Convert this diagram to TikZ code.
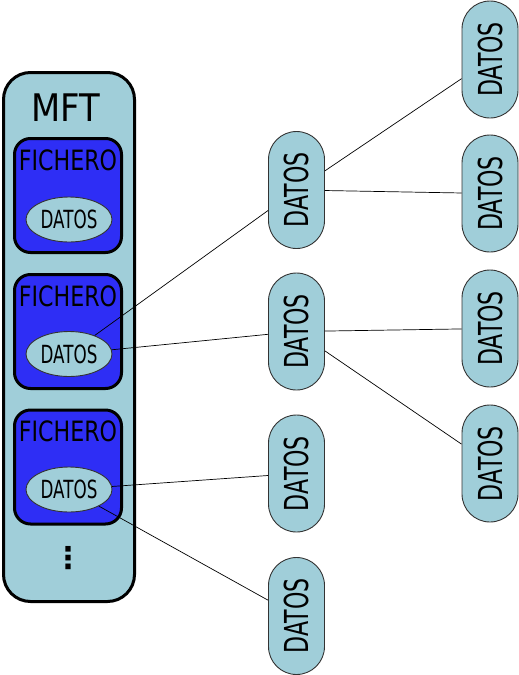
\documentclass[tikz,border=0pt]{standalone}
\usepackage{fontspec}
\setmainfont{DejaVu Sans}
\newfontfamily\mftfont[FakeStretch=0.89]{DejaVu Sans}
\newfontfamily\fichfont[FakeStretch=0.79]{DejaVu Sans}
\newfontfamily\datfont[FakeStretch=0.67]{DejaVu Sans}
\usetikzlibrary{positioning,shapes.geometric}
\definecolor{colorlight} {RGB}{160,206,217}
\definecolor{colorfile}  {RGB}{ 46, 46,245}
\definecolor{colorborder}{RGB}{ 51, 51, 51}

\begin{document}
\begin{tikzpicture}[
    x=1pt, y=-1pt,
    base/.style={inner sep=0pt,align=center,text=black},
    mftbox/.style={base,draw=black,line width=3pt,fill=colorlight,rounded corners=27pt,minimum width=131pt,minimum height=529pt},
    filebox/.style={base,draw=black,line width=3pt,fill=colorfile,rounded corners=16pt,minimum width=107pt,minimum height=114pt},
    filetxt/.style={base,font={\fichfont\fontsize{28}{28}\selectfont}},
    inner/.style={base,ellipse,draw=colorborder,line width=0.9pt,fill=colorlight,minimum width=86pt,minimum height=45pt,font={\datfont\fontsize{25}{25}\selectfont}},
    block/.style={base,rotate=90,draw=colorborder,line width=0.9pt,fill=colorlight,rounded corners=28pt,minimum width=117pt,minimum height=56pt,font={\datfont\fontsize{33}{33}\selectfont}},
    link/.style={draw=black,line width=0.7pt},
]
    \useasboundingbox (0,0) rectangle (519,675);

    % MFT
    \node[mftbox] (mft) at (69,337) {};
    \node[base,font={\mftfont\fontsize{38}{38}\selectfont}] (mfttxt) at (66,107.5) {MFT};

    \node[filebox] (file1) at (68,195.5) {};
    \node[filebox] (file2) at (68,331.5) {};
    \node[filebox] (file3) at (68,467)   {};
    \node[filetxt] (filetxt1) at (68,160) {FICHERO};
    \node[filetxt] (filetxt2) at (68,296) {FICHERO};
    \node[filetxt] (filetxt3) at (68,431) {FICHERO};

    \node[inner] (ell1) at (69,219.5) {DATOS};
    \node[inner] (ell2) at (69,354)   {DATOS};
    \node[inner] (ell3) at (69,489.5) {DATOS};

    \node[base,font={\bfseries\fontsize{30}{30}\selectfont}] (dots) at (68,558) {⋮};

    % data blocks
    \node[block] (dat11) at (296.5,190)   {DATOS};
    \node[block] (dat12) at (296.5,331.5) {DATOS};
    \node[block] (dat13) at (296.5,473.5) {DATOS};
    \node[block] (dat14) at (296.5,616)   {DATOS};

    \node[block] (dat21) at (490,59.5)  {DATOS};
    \node[block] (dat22) at (490,193.5) {DATOS};
    \node[block] (dat23) at (490,328.5) {DATOS};
    \node[block] (dat24) at (490,463.5) {DATOS};

    \draw[link] (ell2) -- (dat11);
    \draw[link] (ell2) -- (dat12);
    \draw[link] (ell3) -- (dat13);
    \draw[link] (ell3) -- (dat14);

    \draw[link] (dat11) -- (dat21);
    \draw[link] (dat11) -- (dat22);
    \draw[link] (dat12) -- (dat23);
    \draw[link] (dat12) -- (dat24);

\end{tikzpicture}
\end{document}
